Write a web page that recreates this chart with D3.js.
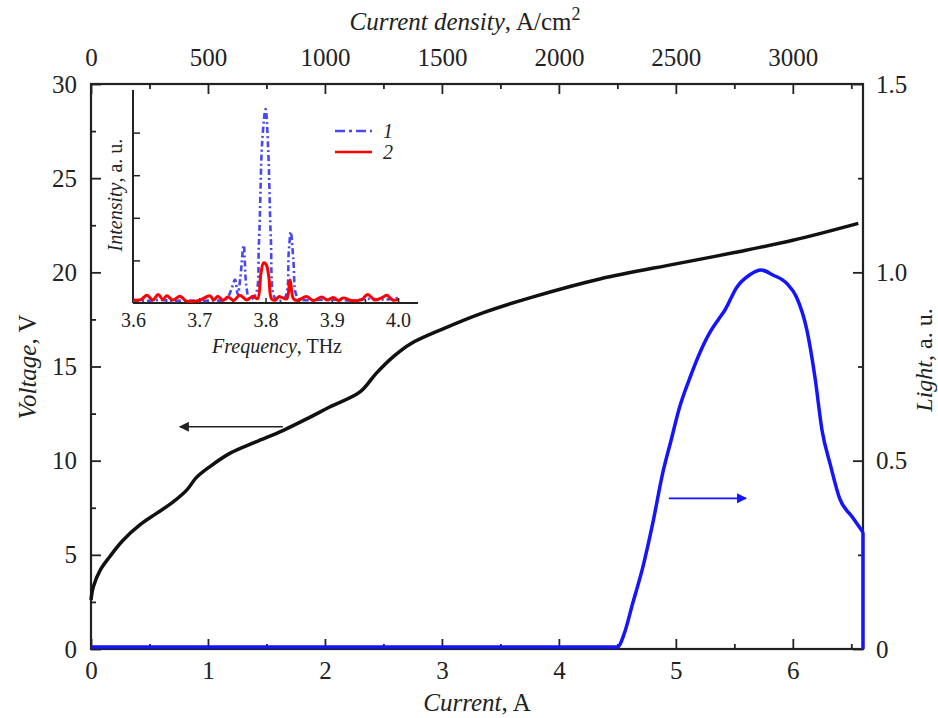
<!DOCTYPE html>
<html>
<head>
<meta charset="utf-8">
<script src="https://cdn.jsdelivr.net/npm/d3@7"></script>
<style>
  body { margin: 0; background: #fff; }
  text { font-family: "Liberation Serif", "Times New Roman", serif; fill: #222; }
</style>
</head>
<body>
<svg id="chart" width="938" height="718"></svg>
<script>
// voltage vs current
const current = [0, 0.02, 0.08, 0.16, 0.27, 0.42, 0.56, 0.70, 0.82, 0.90, 1.02, 1.19, 1.41, 1.64, 1.87, 2.04, 2.30, 2.44, 2.58, 2.73, 3.01, 3.35, 3.78, 4.35, 5.0, 5.5, 6.0, 6.56]
const voltage = [2.6, 3.3, 4.2, 4.9, 5.75, 6.6, 7.2, 7.8, 8.45, 9.1, 9.7, 10.4, 11.0, 11.6, 12.3, 12.85, 13.65, 14.65, 15.5, 16.2, 17.0, 17.85, 18.7, 19.65, 20.45, 21.05, 21.7, 22.6]

// light vs current
const lightCurrent = [0, 1, 2, 3, 4, 4.50, 4.56, 4.63, 4.72, 4.80, 4.89, 4.96, 5.03, 5.12, 5.21, 5.29, 5.36, 5.42, 5.52, 5.63, 5.73, 5.83, 5.95, 6.03, 6.12, 6.19, 6.25, 6.32, 6.40, 6.51, 6.60, 6.60]
const light = [0.005, 0.005, 0.005, 0.005, 0.005, 0.005, 0.042, 0.12, 0.22, 0.33, 0.47, 0.555, 0.64, 0.72, 0.79, 0.84, 0.873, 0.90, 0.96, 0.993, 1.006, 0.993, 0.97, 0.935, 0.847, 0.72, 0.58, 0.49, 0.40, 0.35, 0.31, 0]

// inset spectra
const freq1 = [3.60, 3.62, 3.64, 3.66, 3.68, 3.70, 3.72, 3.74, 3.748, 3.754, 3.758, 3.762, 3.767, 3.771, 3.776, 3.785, 3.790, 3.795, 3.800, 3.804, 3.808, 3.813, 3.820, 3.830, 3.835, 3.838, 3.842, 3.846, 3.852, 3.87, 3.90, 3.93, 3.96, 3.98, 4.00]
const int1 = [0.06, 0.05, 0.07, 0.05, 0.06, 0.05, 0.06, 0.08, 0.3, 0.55, 0.2, 0.6, 1.36, 0.4, 0.08, 0.2, 1.4, 3.8, 4.55, 3.6, 1.5, 0.15, 0.05, 0.15, 1.2, 1.67, 1.0, 0.2, 0.08, 0.07, 0.08, 0.06, 0.1, 0.08, 0.12]
const freq2 = [3.60, 3.612, 3.621, 3.63, 3.638, 3.645, 3.651, 3.66, 3.671, 3.68, 3.70, 3.716, 3.722, 3.728, 3.736, 3.743, 3.752, 3.761, 3.772, 3.781, 3.788, 3.793, 3.797, 3.801, 3.805, 3.809, 3.815, 3.820, 3.826, 3.832, 3.837, 3.842, 3.848, 3.862, 3.872, 3.885, 3.893, 3.902, 3.91, 3.917, 3.93, 3.945, 3.954, 3.965, 3.975, 3.983, 3.992, 4.00]
const int2 = [0.07, 0.08, 0.18, 0.07, 0.2, 0.08, 0.17, 0.07, 0.16, 0.05, 0.06, 0.17, 0.07, 0.16, 0.06, 0.14, 0.06, 0.18, 0.07, 0.16, 0.1, 0.7, 0.94, 0.9, 0.6, 0.1, 0.07, 0.15, 0.12, 0.1, 0.54, 0.1, 0.06, 0.15, 0.06, 0.14, 0.07, 0.13, 0.06, 0.12, 0.06, 0.08, 0.2, 0.07, 0.12, 0.18, 0.07, 0.08]

const currentTicks = [0, 1, 2, 3, 4, 5, 6]
const densityTicks = [0, 500, 1000, 1500, 2000, 2500, 3000]
const voltageTicks = [0, 5, 10, 15, 20, 25, 30]
const lightTicks = [0, 0.5, 1.0, 1.5]
const lightLabels = ["0", "0.5", "1.0", "1.5"]
const freqTicks = [3.6, 3.7, 3.8, 3.9, 4.0]

const svg = d3.select("#chart")
const axisColor = "#222"

const plotLeft = 91, plotRight = 863, plotTop = 84, plotBottom = 649
const x = d3.scaleLinear().domain([0, 6.6]).range([plotLeft, plotRight])
const xTop = d3.scaleLinear().domain([0, 3300]).range([plotLeft, plotRight])
const yV = d3.scaleLinear().domain([0, 30]).range([plotBottom, plotTop])
const yL = d3.scaleLinear().domain([0, 1.5]).range([plotBottom, plotTop])

function styleAxis(g) {
  g.select(".domain").remove()
  g.selectAll("line").attr("stroke", axisColor).attr("stroke-width", 1.8)
  g.selectAll("text").style("font-size", "25px").attr("fill", axisColor)
}

// minor ticks first
svg.append("g").attr("transform", `translate(0,${plotBottom})`)
  .call(d3.axisBottom(x).tickValues(d3.range(0.5, 6.6, 1)).tickSize(-5).tickFormat(""))
  .call(styleAxis)
svg.append("g").attr("transform", `translate(0,${plotTop})`)
  .call(d3.axisTop(xTop).tickValues(d3.range(250, 3300, 500)).tickSize(-5).tickFormat(""))
  .call(styleAxis)
svg.append("g").attr("transform", `translate(${plotLeft},0)`)
  .call(d3.axisLeft(yV).tickValues(d3.range(2.5, 30, 5)).tickSize(-5).tickFormat(""))
  .call(styleAxis)
svg.append("g").attr("transform", `translate(${plotRight},0)`)
  .call(d3.axisRight(yL).tickValues([0.25, 0.75, 1.25]).tickSize(-5).tickFormat(""))
  .call(styleAxis)

// major ticks
svg.append("g").attr("transform", `translate(0,${plotBottom})`)
  .call(d3.axisBottom(x).tickValues(currentTicks).tickSize(-10).tickPadding(12).tickFormat(d3.format("d")))
  .call(styleAxis)
svg.append("g").attr("transform", `translate(0,${plotTop})`)
  .call(d3.axisTop(xTop).tickValues(densityTicks).tickSize(-10).tickPadding(18).tickFormat(d3.format("d")))
  .call(styleAxis)
svg.append("g").attr("transform", `translate(${plotLeft},0)`)
  .call(d3.axisLeft(yV).tickValues(voltageTicks).tickSize(-10).tickPadding(14).tickFormat(d3.format("d")))
  .call(styleAxis)
svg.append("g").attr("transform", `translate(${plotRight},0)`)
  .call(d3.axisRight(yL).tickValues(lightTicks).tickSize(-10).tickPadding(13).tickFormat((d, i) => lightLabels[i]))
  .call(styleAxis)

// frame
svg.append("rect").attr("x", plotLeft).attr("y", plotTop)
  .attr("width", plotRight - plotLeft).attr("height", plotBottom - plotTop)
  .attr("fill", "none").attr("stroke", axisColor).attr("stroke-width", 2.2)

// axis titles
function title(sel, italic, rest) {
  sel.append("tspan").attr("font-style", "italic").text(italic)
  sel.append("tspan").text(rest)
  return sel
}
title(svg.append("text").attr("x", 477).attr("y", 711).attr("text-anchor", "middle").style("font-size", "25px"), "Current", ", A")
let topTitle = title(svg.append("text").attr("x", 465).attr("y", 30).attr("text-anchor", "middle").style("font-size", "25px"), "Current density", ", A/cm")
topTitle.append("tspan").attr("dy", -10).style("font-size", "18px").text("2")
title(svg.append("text").attr("transform", "translate(36,367) rotate(-90)").attr("text-anchor", "middle").style("font-size", "25px"), "Voltage", ", V")
title(svg.append("text").attr("transform", "translate(932,360) rotate(-90)").attr("text-anchor", "middle").style("font-size", "24px"), "Light", ", a. u.")

// curves
const vLine = d3.line().x((d, i) => x(current[i])).y(d => yV(d)).curve(d3.curveCatmullRom.alpha(0.5))
svg.append("path").datum(voltage).attr("d", vLine)
  .attr("fill", "none").attr("stroke", "#111").attr("stroke-width", 3.5)

// light curve: smooth part, then the straight drop at the end
const nL = light.length
const lLine = d3.line().x(d => x(lightCurrent[d])).y(d => yL(light[d])).curve(d3.curveMonotoneX)
svg.append("path").datum(d3.range(0, nL - 1)).attr("d", lLine)
  .attr("fill", "none").attr("stroke", "#1414ff").attr("stroke-width", 3.5).attr("stroke-linejoin", "round")
svg.append("path").datum([nL - 2, nL - 1]).attr("d", d3.line().x(d => x(lightCurrent[d])).y(d => yL(light[d])))
  .attr("fill", "none").attr("stroke", "#1414ff").attr("stroke-width", 3.5)

// arrows
const defs = svg.append("defs")
function marker(id, color) {
  defs.append("marker").attr("id", id).attr("viewBox", "0 0 10 10")
    .attr("refX", 9).attr("refY", 5).attr("markerWidth", 14).attr("markerHeight", 10)
    .attr("markerUnits", "userSpaceOnUse").attr("orient", "auto")
    .append("path").attr("d", "M0,0 L10,5 L0,10 Z").attr("fill", color)
}
marker("headBlack", "#222")
marker("headBlue", "#1414ff")
svg.append("line").attr("x1", x(1.64)).attr("x2", x(0.76))
  .attr("y1", yV(11.8)).attr("y2", yV(11.8))
  .attr("stroke", "#222").attr("stroke-width", 1.6).attr("marker-end", "url(#headBlack)")
svg.append("line").attr("x1", x(4.94)).attr("x2", x(5.6))
  .attr("y1", yL(0.4)).attr("y2", yL(0.4))
  .attr("stroke", "#1414ff").attr("stroke-width", 1.6).attr("marker-end", "url(#headBlue)")

// inset
const iLeft = 133, iRight = 418, iTop = 90, iBottom = 303
const fx = d3.scaleLinear().domain([3.6, 4.03]).range([iLeft, iRight])
const fy = d3.scaleLinear().domain([0, 5]).range([iBottom, iTop])
const inset = svg.append("g")

inset.append("g").attr("transform", `translate(0,${iBottom})`)
  .call(d3.axisBottom(fx).tickValues(d3.range(3.65, 4.0, 0.1)).tickSize(-4).tickFormat(""))
  .call(g => { g.select(".domain").remove(); g.selectAll("line").attr("stroke", axisColor).attr("stroke-width", 1.5) })
inset.append("g").attr("transform", `translate(0,${iBottom})`)
  .call(d3.axisBottom(fx).tickValues(freqTicks).tickSize(-5).tickPadding(10).tickFormat(d3.format(".1f")))
  .call(g => {
    g.select(".domain").remove()
    g.selectAll("line").attr("stroke", axisColor).attr("stroke-width", 1.5)
    g.selectAll("text").style("font-size", "20px").attr("fill", axisColor)
  })
inset.append("g").attr("transform", `translate(${iLeft},0)`)
  .call(d3.axisLeft(fy).tickValues([1, 2, 3, 4]).tickSize(-7).tickFormat(""))
  .call(g => { g.select(".domain").remove(); g.selectAll("line").attr("stroke", axisColor).attr("stroke-width", 1.5) })

inset.append("line").attr("x1", iLeft).attr("x2", iRight).attr("y1", iBottom).attr("y2", iBottom)
  .attr("stroke", axisColor).attr("stroke-width", 2)
inset.append("line").attr("x1", iLeft).attr("x2", iLeft).attr("y1", iTop).attr("y2", iBottom)
  .attr("stroke", axisColor).attr("stroke-width", 2)

const s1 = d3.line().x((d, i) => fx(freq1[i])).y(d => fy(d)).curve(d3.curveCatmullRom.alpha(0.5))
const s2 = d3.line().x((d, i) => fx(freq2[i])).y(d => fy(d)).curve(d3.curveCatmullRom.alpha(0.5))
inset.append("path").datum(int1).attr("d", s1)
  .attr("fill", "none").attr("stroke", "#4848f0").attr("stroke-width", 2.6)
  .attr("stroke-dasharray", "6,3,2,3")
inset.append("path").datum(int2).attr("d", s2)
  .attr("fill", "none").attr("stroke", "#f00").attr("stroke-width", 3)

title(inset.append("text").attr("x", 277).attr("y", 353).attr("text-anchor", "middle").style("font-size", "20px"), "Frequency", ", THz")
title(inset.append("text").attr("transform", "translate(122,195) rotate(-90)").attr("text-anchor", "middle").style("font-size", "20px"), "Intensity", ", a. u.")

// legend
const legendItems = [
  { label: "1", color: "#4848f0", dash: "10,4,3,4", y: 131 },
  { label: "2", color: "#f00", dash: null, y: 152 }
]
legendItems.forEach(d => {
  inset.append("line").attr("x1", 335).attr("x2", 372).attr("y1", d.y).attr("y2", d.y)
    .attr("stroke", d.color).attr("stroke-width", 2.6).attr("stroke-dasharray", d.dash)
  inset.append("text").attr("x", 383).attr("y", d.y + 7).attr("font-style", "italic")
    .style("font-size", "20px").text(d.label)
})
</script>
</body>
</html>
